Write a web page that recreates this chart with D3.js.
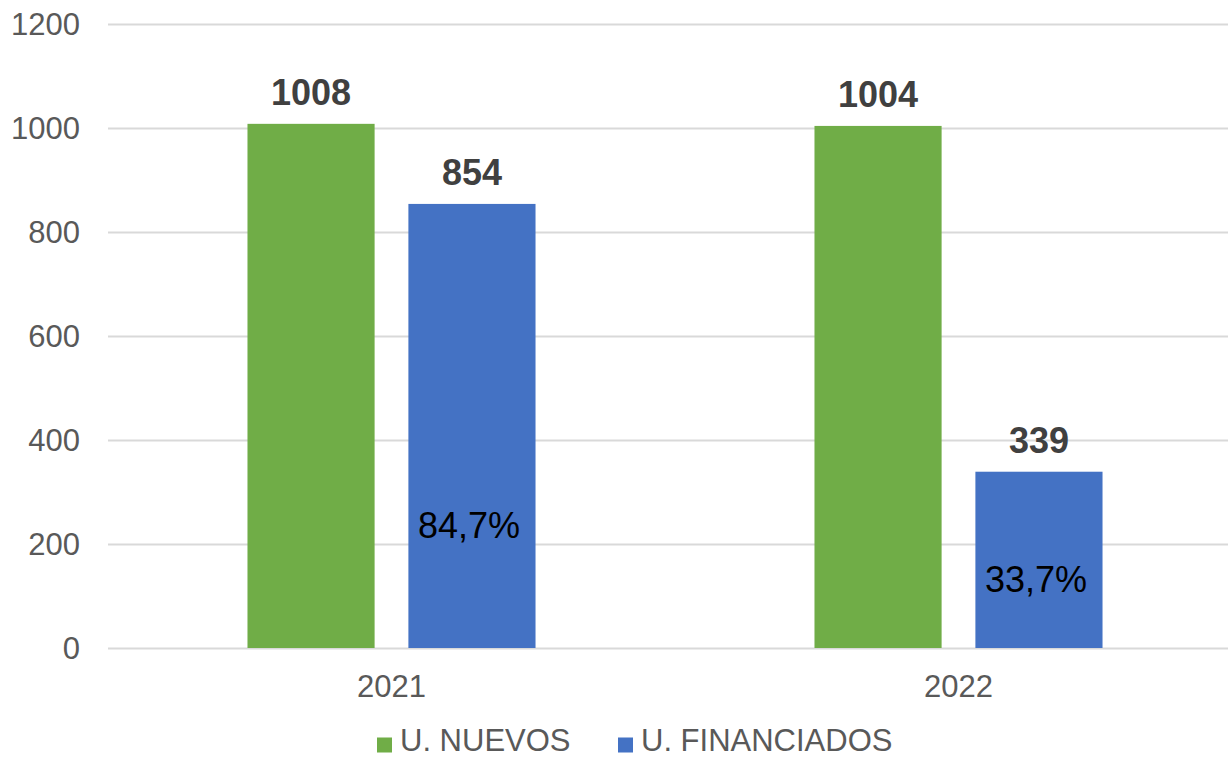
<!DOCTYPE html>
<html>
<head>
<meta charset="utf-8">
<script src="https://cdn.jsdelivr.net/npm/d3@7"></script>
<style>
  body { margin: 0; background: #fff; }
  svg { display: block; font-family: "Liberation Sans", Arial, sans-serif; }
</style>
</head>
<body>
<div id="chart"></div>
<script>
// DATA
const years = ["2021", "2022"];
const seriesNames = ["U. NUEVOS", "U. FINANCIADOS"];
const nuevos = [1008, 1004];
const financiados = [854, 339];
const pctLabels = ["84,7%", "33,7%"];
const pctLabelAt = [212, 108]; // value level of the % text baseline
const yTicks = [0, 200, 400, 600, 800, 1000, 1200];

const colors = { "U. NUEVOS": "#70AD47", "U. FINANCIADOS": "#4472C4" };

// SETUP
const width = 1228;
const height = 759;
const margin = { top: 24, right: -14, bottom: 111, left: 108 };

const svg = d3.select("#chart")
    .append("svg")
    .attr("width", width)
    .attr("height", height)
    .attr("viewBox", [0, 0, width, height]);

const data = years.map((yr, i) => ({
    year: yr,
    values: [
        { key: seriesNames[0], value: nuevos[i] },
        { key: seriesNames[1], value: financiados[i] }
    ],
    pct: pctLabels[i],
    pctAt: pctLabelAt[i]
}));

// --- SCALES ---
const x0 = d3.scaleBand()
    .domain(years)
    .range([margin.left, width - margin.right])
    .paddingInner(0.492)
    .paddingOuter(0.246);

const x1 = d3.scaleBand()
    .domain(seriesNames)
    .range([0, x0.bandwidth()])
    .paddingInner(0.21);

const y = d3.scaleLinear()
    .domain([0, 1200])
    .range([height - margin.bottom, margin.top]);

// --- GRID LINES ---
svg.append("g")
    .attr("transform", `translate(${margin.left},0)`)
    .call(d3.axisLeft(y)
        .tickValues(yTicks)
        .tickSize(-(width - margin.left))
        .tickFormat(""))
    .call(g => g.select(".domain").remove())
    .call(g => g.selectAll(".tick line")
        .attr("stroke", "#D9D9D9")
        .attr("stroke-width", 2));

// Y labels
svg.append("g")
    .selectAll("text")
    .data(yTicks)
    .join("text")
    .attr("x", 80)
    .attr("y", d => y(d))
    .attr("dy", "0.35em")
    .attr("text-anchor", "end")
    .attr("font-size", "31px")
    .attr("fill", "#595959")
    .text(d => d);

// X labels
svg.append("g")
    .selectAll("text")
    .data(years)
    .join("text")
    .attr("x", d => x0(d) + x0.bandwidth() / 2)
    .attr("y", 697)
    .attr("text-anchor", "middle")
    .attr("font-size", "31px")
    .attr("fill", "#595959")
    .text(d => d);

// --- BARS ---
const group = svg.append("g")
    .selectAll("g")
    .data(data)
    .join("g")
    .attr("transform", d => `translate(${x0(d.year)},0)`);

group.selectAll("rect")
    .data(d => d.values)
    .join("rect")
    .attr("x", d => x1(d.key))
    .attr("y", d => y(d.value))
    .attr("width", x1.bandwidth())
    .attr("height", d => y(0) - y(d.value))
    .attr("fill", d => colors[d.key]);

// value labels
group.selectAll(".val-label")
    .data(d => d.values)
    .join("text")
    .attr("class", "val-label")
    .attr("x", d => x1(d.key) + x1.bandwidth() / 2)
    .attr("y", d => y(d.value) - 19)
    .attr("text-anchor", "middle")
    .attr("font-size", "36px")
    .attr("font-weight", "bold")
    .attr("fill", "#404040")
    .text(d => d.value);

// percent labels inside the blue bars
group.append("text")
    .attr("x", x1(seriesNames[1]) + x1.bandwidth() / 2 - 3)
    .attr("y", d => y(d.pctAt))
    .attr("text-anchor", "middle")
    .attr("font-size", "36px")
    .attr("fill", "#000")
    .text(d => d.pct);

// --- LEGEND ---
const legendX = [377, 618];
const legend = svg.append("g")
    .selectAll("g")
    .data(seriesNames)
    .join("g")
    .attr("transform", (d, i) => `translate(${legendX[i]}, 745)`);

legend.append("rect")
    .attr("x", 0)
    .attr("y", -7.5)
    .attr("width", 15)
    .attr("height", 15)
    .attr("fill", d => colors[d]);

legend.append("text")
    .attr("x", 23)
    .attr("y", 6)
    .attr("font-size", "31px")
    .attr("fill", "#595959")
    .text(d => d);
</script>
</body>
</html>
